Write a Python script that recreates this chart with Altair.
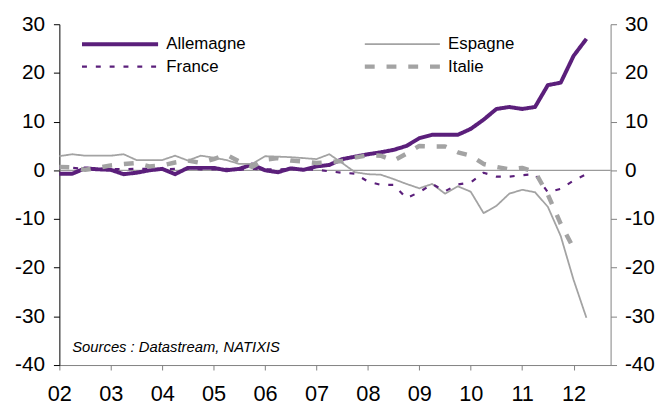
import altair as alt
import pandas as pd

# ---- data (quarterly, 2002Q1 .. 2012Q2) ----
quarters = [2002 + 0.25 * i for i in range(42)]

allemagne = [-0.7, -0.7, 0.4, 0.2, 0.1, -0.8, -0.5, 0.0, 0.3, -0.8,
             0.5, 0.5, 0.5, 0.0, 0.3, 1.2, 0.0, -0.4, 0.4, 0.1,
             0.8, 1.1, 2.3, 2.8, 3.3, 3.7, 4.2, 5.0, 6.6, 7.3,
             7.3, 7.3, 8.5, 10.4, 12.6, 13.0, 12.6, 13.0, 17.5, 18.0,
             23.5, 27.0]
espagne = [2.9, 3.3, 3.0, 3.0, 3.0, 3.3, 2.1, 2.1, 2.1, 3.0,
           2.0, 3.0, 2.6, 2.1, 1.3, 1.3, 2.9, 2.8, 2.7, 2.5,
           2.3, 3.3, 1.5, -0.4, -0.8, -0.9, -1.8, -2.8, -3.7, -2.8,
           -4.8, -3.3, -4.4, -8.8, -7.3, -4.8, -4.0, -4.5, -7.5, -13.5,
           -22.5, -30.3]
france = [0.5, 0.5, 0.3, 0.3, 0.3, 0.2, 0.3, 0.3, 0.2, 0.3,
          0.3, 0.2, 0.2, 0.3, 0.1, 0.3, 0.2, 0.2, 0.3, 0.2,
          0.1, -0.2, -0.5, -0.7, -2.3, -3.0, -3.0, -5.7, -4.5, -2.8,
          -4.3, -2.9, -2.5, -0.5, -1.3, -1.3, -1.0, -0.8, -4.5, -3.8,
          -2.1, -0.8]
italie = [0.7, 0.6, 0.1, 0.5, 1.0, 1.3, 1.5, 0.8, 1.0, 1.6,
          2.0, 1.5, 2.3, 3.2, 1.8, 0.7, 2.2, 2.5, 2.0, 1.8,
          1.5, 1.7, 1.9, 2.6, 3.1, 3.0, 2.0, 3.4, 5.0, 4.9,
          4.9, 3.7, 3.0, 1.3, 0.7, 0.2, 0.5, -0.3, -5.0, -11.0,
          -16.0]

names = ["Allemagne", "Espagne", "France", "Italie"]
year_ticks = list(range(2002, 2013))
value_ticks = list(range(-40, 31, 10))
source_text = "Sources : Datastream, NATIXIS"

series = {"Allemagne": allemagne, "Espagne": espagne, "France": france, "Italie": italie}
rows = []
for name, vals in series.items():
    for t, v in zip(quarters, vals):
        rows.append({"pays": name, "t": t, "v": v})
df = pd.DataFrame(rows)

# legend table (positions in data units)
leg = pd.DataFrame({
    "pays": names,
    "x0": [2002.44, 2007.94, 2002.44, 2007.94],
    "x1": [2003.92, 2009.40, 2003.92, 2009.40],
    "lx": [2004.08, 2009.56, 2004.08, 2009.56],
    "y": [25.9, 25.9, 21.3, 21.3],
})
src = pd.DataFrame({"t": [2002.25], "v": [-36.3], "txt": [source_text]})

# ---- styles ----
colors = ["#5b1f7b", "#a3a3a3", "#5b1f7b", "#a3a3a3"]
dashes = [[1, 0], [1, 0], [5, 9], [10, 12]]
widths = [4, 1.8, 2.2, 4.5]
FONT = "Liberation Sans"

xs = alt.Scale(domain=[2002, 2012.72], nice=False, zero=False)
ys = alt.Scale(domain=[-40, 30], nice=False, zero=False)

x_axis = alt.Axis(orient="bottom", values=year_ticks, title=None, grid=False,
                  labelExpr="(datum.value - 2000 < 10 ? '0' : '') + (datum.value - 2000)",
                  tickSize=5, labelPadding=14, domainColor="#808080", tickColor="#808080",
                  labelFontSize=22, labelFont=FONT, labelColor="#000000", labelFlush=False)
left_axis = alt.Axis(orient="left", values=value_ticks, title=None, grid=False,
                     labelExpr="'' + datum.value", tickSize=6, labelPadding=9,
                     domainColor="#000000", tickColor="#000000",
                     labelFontSize=21, labelFont=FONT, labelColor="#000000")
right_axis = alt.Axis(orient="right", values=value_ticks, title=None, grid=False,
                      labelExpr="'' + datum.value", tickSize=6, labelPadding=8,
                      domainColor="#808080", tickColor="#808080",
                      labelFontSize=21, labelFont=FONT, labelColor="#000000")

color = alt.Color("pays:N", scale=alt.Scale(domain=names, range=colors), legend=None)
dash = alt.StrokeDash("pays:N", scale=alt.Scale(domain=names, range=dashes), legend=None)
width = alt.StrokeWidth("pays:N", scale=alt.Scale(type="ordinal", domain=names, range=widths),
                        legend=None)

zero = alt.Chart(pd.DataFrame({"v": [0]})).mark_rule(color="#808080", strokeWidth=1).encode(
    y=alt.Y("v:Q", scale=ys, axis=left_axis)
)

lines = alt.Chart(df).mark_line(strokeJoin="round").encode(
    x=alt.X("t:Q", scale=xs, axis=x_axis),
    y=alt.Y("v:Q", scale=ys, axis=left_axis),
    color=color, strokeDash=dash, strokeWidth=width,
    order=alt.Order("t:Q"),
)

leg_lines = alt.Chart(leg).mark_rule().encode(
    x=alt.X("x0:Q", scale=xs, axis=x_axis), x2="x1:Q",
    y=alt.Y("y:Q", scale=ys, axis=left_axis),
    color=color, strokeDash=dash, strokeWidth=width,
)
leg_text = alt.Chart(leg).mark_text(align="left", baseline="middle", fontSize=17,
                                     font=FONT, color="#000000").encode(
    x=alt.X("lx:Q", scale=xs, axis=x_axis),
    y=alt.Y("y:Q", scale=ys, axis=left_axis),
    text="pays:N",
)
src_text = alt.Chart(src).mark_text(align="left", baseline="middle", fontSize=15,
                                     font=FONT, fontStyle="italic", color="#000000").encode(
    x=alt.X("t:Q", scale=xs, axis=x_axis),
    y=alt.Y("v:Q", scale=ys, axis=left_axis),
    text="txt:N",
)

left = alt.layer(zero, lines, leg_lines, leg_text, src_text)

right = alt.Chart(pd.DataFrame({"v": [0]})).mark_rule(opacity=0).encode(
    y=alt.Y("v:Q", scale=ys, axis=right_axis)
)

chart = alt.layer(left, right).resolve_scale(y="independent").properties(
    width=558, height=345,
    autosize=alt.AutoSizeParams(type="none"),
    padding={"left": 52, "top": 14, "right": 49, "bottom": 38},
).configure_view(stroke=None)

chart.save("out.html", embed_options={"renderer": "svg", "actions": False})
